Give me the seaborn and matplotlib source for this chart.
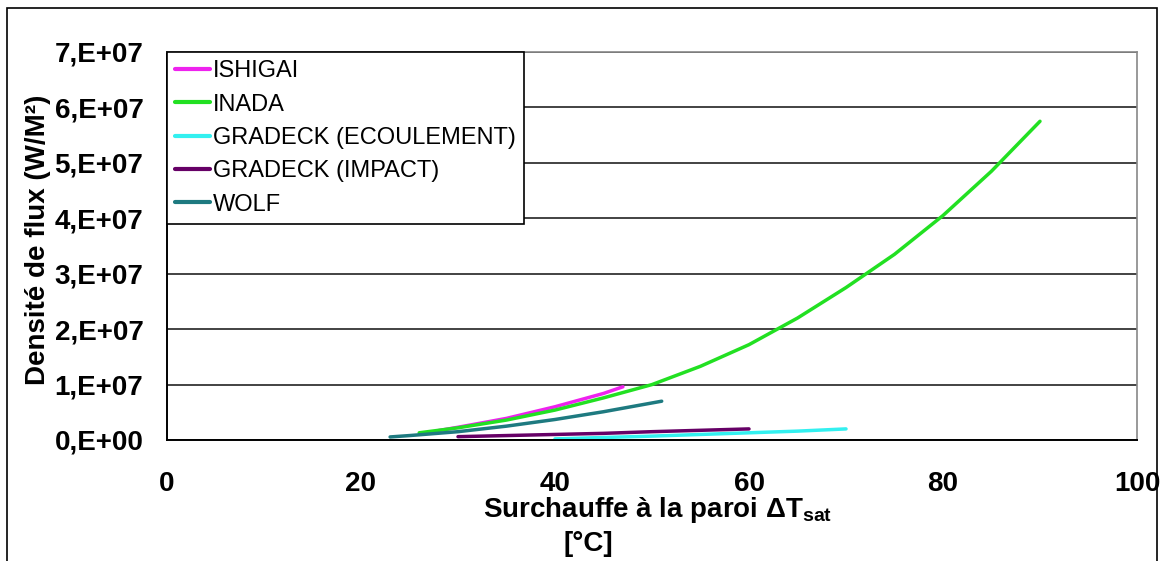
import numpy as np
import pandas as pd
import matplotlib
matplotlib.use("Agg")
import matplotlib.pyplot as plt
from matplotlib.patches import Rectangle
import seaborn as sns

# ---- data ----
series_names = ["ISHIGAI", "INADA", "GRADECK (ECOULEMENT)", "GRADECK (IMPACT)", "WOLF"]

ishigai_x = [28, 30, 35, 40, 45, 47]
ishigai_y = [1.7e6, 2.3e6, 3.9e6, 6.0e6, 8.4e6, 9.6e6]

inada_x = [26, 30, 35, 40, 45, 50, 55, 60, 65, 70, 75, 80, 85, 90]
inada_y = [1.3e6, 2.2e6, 3.6e6, 5.4e6, 7.6e6, 1.0e7, 1.33e7, 1.72e7, 2.2e7,
           2.75e7, 3.35e7, 4.05e7, 4.85e7, 5.75e7]

ecoul_x = [40, 45, 50, 55, 60, 65, 70]
ecoul_y = [0.2e6, 0.45e6, 0.7e6, 1.0e6, 1.3e6, 1.6e6, 2.0e6]

impact_x = [30, 35, 40, 45, 50, 55, 60]
impact_y = [0.6e6, 0.8e6, 1.0e6, 1.2e6, 1.5e6, 1.75e6, 2.0e6]

wolf_x = [23, 25, 30, 35, 40, 45, 51]
wolf_y = [0.55e6, 0.8e6, 1.5e6, 2.5e6, 3.7e6, 5.1e6, 7.0e6]

x_ticks = [0, 20, 40, 60, 80, 100]
y_ticks = [0, 1e7, 2e7, 3e7, 4e7, 5e7, 6e7, 7e7]
y_tick_labels = ["0,E+00", "1,E+07", "2,E+07", "3,E+07", "4,E+07", "5,E+07", "6,E+07", "7,E+07"]

colors = ["#ee22ee", "#22e022", "#33f0f0", "#660066", "#1e7a80"]

# ---- build long-form table ----
frames = []
for name, xs, ys in zip(series_names,
                        [ishigai_x, inada_x, ecoul_x, impact_x, wolf_x],
                        [ishigai_y, inada_y, ecoul_y, impact_y, wolf_y]):
    frames.append(pd.DataFrame({"x": xs, "y": ys, "series": name}))
df = pd.concat(frames, ignore_index=True)

sns.set_style("white")
plt.rcParams["font.family"] = ["Liberation Sans", "DejaVu Sans"]
plt.rcParams["text.color"] = "black"
plt.rcParams["xtick.color"] = "black"
plt.rcParams["ytick.color"] = "black"
plt.rcParams["mathtext.fontset"] = "custom"
plt.rcParams["mathtext.rm"] = "Liberation Sans:bold"
plt.rcParams["mathtext.bf"] = "Liberation Sans:bold"
plt.rcParams["mathtext.it"] = "Liberation Sans:bold"

W, H = 1161, 561
fig = plt.figure(figsize=(W / 100, H / 100), dpi=100)
ax = fig.add_axes([167 / W, 1 - 440 / H, 970 / W, 388 / H])

sns.lineplot(data=df, x="x", y="y", hue="series", hue_order=series_names,
             palette=dict(zip(series_names, colors)), sort=False,
             estimator=None, lw=2.5, ax=ax)

ax.set_xlim(0, 100)
ax.set_ylim(0, 7e7)
ax.set_xticks(x_ticks)
ax.set_xticklabels([str(v) for v in x_ticks])
ax.set_yticks(y_ticks)
ax.set_yticklabels(y_tick_labels)
ax.tick_params(axis="x", direction="out", length=7, width=1.2, pad=15,
               labelsize=20, color="black", labelcolor="black")
ax.tick_params(axis="y", direction="out", length=8, width=1.2, pad=9,
               labelsize=20, color="black", labelcolor="black")
for lab in ax.get_xticklabels() + ax.get_yticklabels():
    lab.set_fontweight("bold")

ax.yaxis.grid(True, color="#222222", lw=1.2)
ax.xaxis.grid(False)
ax.set_axisbelow(True)
for s in ["left", "bottom"]:
    ax.spines[s].set_color("black")
    ax.spines[s].set_linewidth(1.4)
for s in ["top", "right"]:
    ax.spines[s].set_color("#888888")
    ax.spines[s].set_linewidth(1.2)

ax.set_xlabel("")
ax.set_ylabel("")

handles, labels = ax.get_legend_handles_labels()
leg = ax.legend(handles, labels, loc="upper left", bbox_to_anchor=(0, 1),
                frameon=True, fancybox=False, edgecolor="black", framealpha=1,
                fontsize=17, handlelength=1.45, handletextpad=0.15,
                labelspacing=0.48, borderpad=0.35, borderaxespad=0)
leg.get_frame().set_linewidth(1.2)
for lh in leg.get_lines():
    lh.set_linewidth(3)

fig.text(658 / W, 1 - 510 / H, r"Surchauffe à la paroi ΔT$_{sat}$",
         ha="center", va="center", fontsize=20, fontweight="bold")
fig.text(588 / W, 1 - 544 / H, "[°C]", ha="center", va="center",
         fontsize=20, fontweight="bold")
fig.text(38 / W, 1 - 240 / H, "Densité de flux (W/M²)", rotation=90,
         ha="center", va="center", fontsize=20, fontweight="bold")

fig.patches.append(Rectangle((7 / W, -0.05), (1157 - 7) / W, (H - 8) / H + 0.05,
                             transform=fig.transFigure, fill=False,
                             ec="black", lw=1.2))

fig.savefig("out.png", dpi=100)
